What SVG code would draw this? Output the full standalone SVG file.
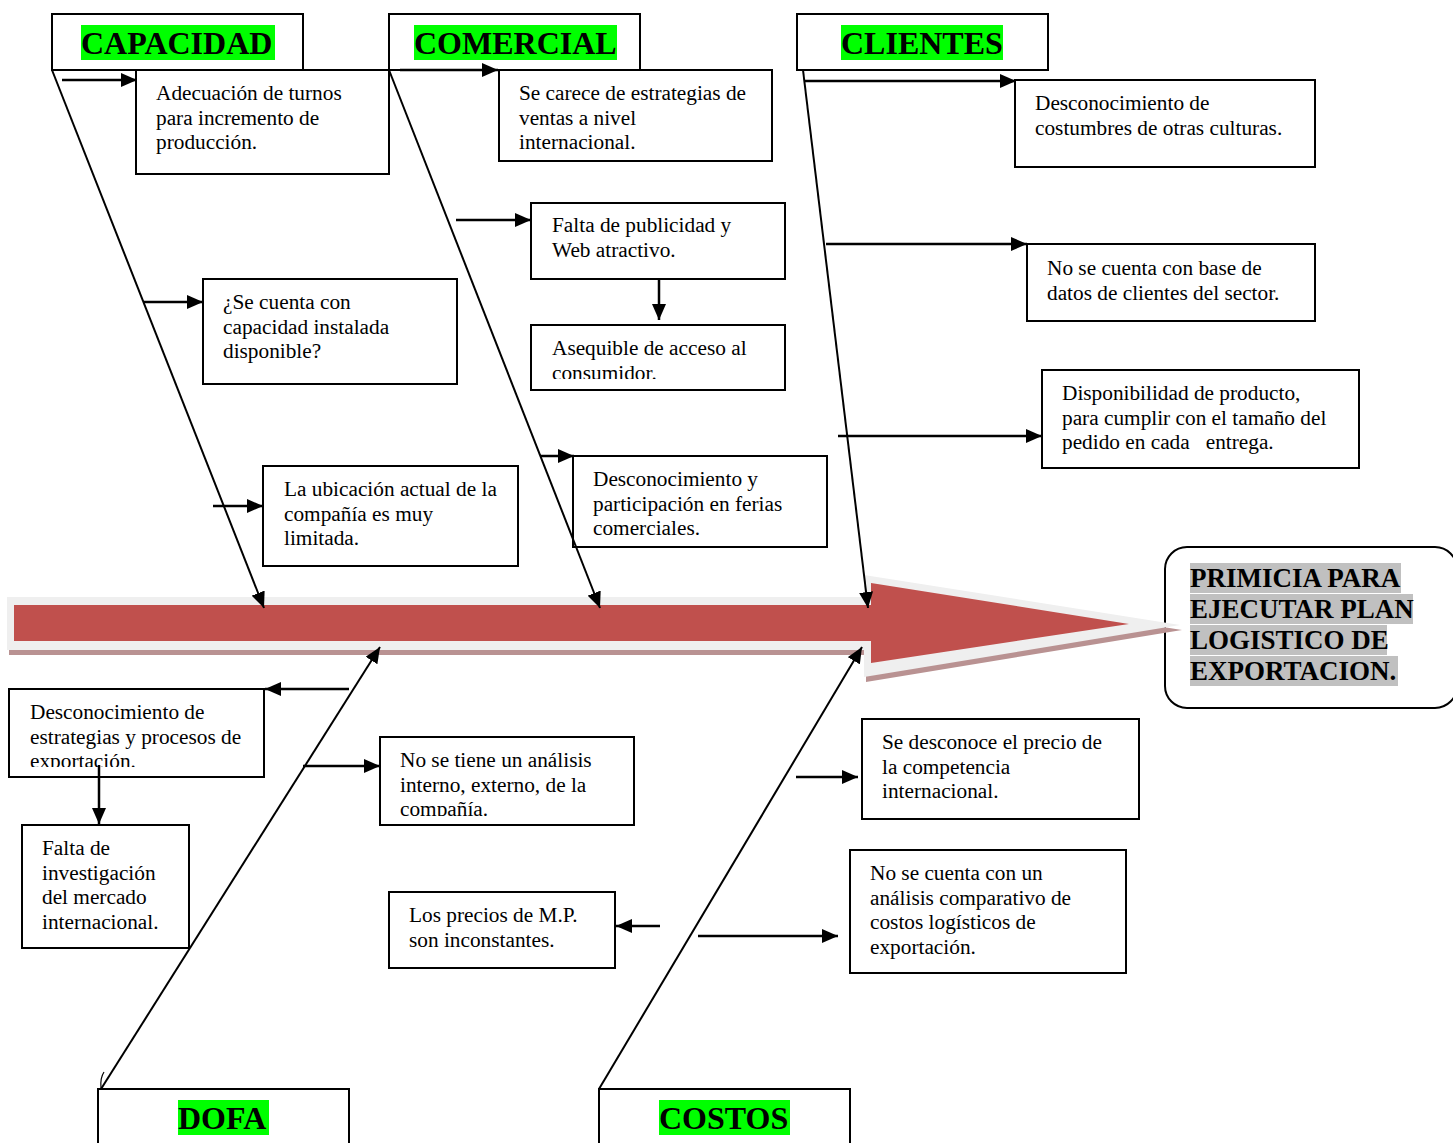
<svg xmlns="http://www.w3.org/2000/svg" width="1453" height="1143" viewBox="0 0 1453 1143">
<style>
.box{fill:#fff;stroke:#000;stroke-width:2}
.t{font-family:"Liberation Serif","Times New Roman",serif;font-size:21.3px;fill:#000}
.h{font-family:"Liberation Serif","Times New Roman",serif;font-size:32px;font-weight:bold;fill:#000}
.r{font-family:"Liberation Serif","Times New Roman",serif;font-size:27px;font-weight:bold;fill:#000}
.hl{fill:#00ff00}
.gl{fill:#c0c0c0}
.sp{stroke:#000;stroke-width:2;fill:none;marker-end:url(#ah)}
.ar{stroke:#000;stroke-width:2.5;fill:none;marker-end:url(#ah)}
</style>
<defs>
<marker id="ah" markerUnits="userSpaceOnUse" markerWidth="16" markerHeight="14" refX="16" refY="7" orient="auto">
<path d="M0,0 L16,7 L0,14 z" fill="#000"/>
</marker>
<clipPath id="c1"><rect x="531" y="325" width="254" height="54"/></clipPath>
<clipPath id="c2"><rect x="9" y="689" width="255" height="78"/></clipPath>
<clipPath id="c3"><rect x="380" y="737" width="254" height="79"/></clipPath>
</defs>
<rect width="1453" height="1143" fill="#fff"/>

<g id="result">
<rect x="1165" y="547" width="292" height="161" rx="22" ry="22" class="box"/>
<rect x="1190" y="563" width="211" height="30" class="gl"/>
<rect x="1190" y="594" width="223" height="30" class="gl"/>
<rect x="1190" y="625" width="197" height="30" class="gl"/>
<rect x="1190" y="656" width="208" height="30" class="gl"/>
<text class="r"><tspan x="1190" y="587">PRIMICIA PARA</tspan><tspan x="1190" y="618">EJECUTAR PLAN</tspan><tspan x="1190" y="649">LOGISTICO DE</tspan><tspan x="1190" y="680">EXPORTACION.</tspan></text>
</g>

<g id="main-arrow">
<polygon points="9,602 866,602 866,580 1182,630 866,682 866,655 9,655" fill="#b99292"/>
<polygon points="7,597 864,597 864,575 1180,625 864,677 864,650 7,650" fill="#efefef"/>
<polygon points="14,605 871,605 871,583 1129,624 871,663 871,641 14,641" fill="#c0504d"/>
</g>

<g id="hdr-capacidad">
<rect x="52" y="14" width="251" height="56" class="box"/>
<rect x="81" y="25" width="194" height="35" class="hl"/>
<text class="h" x="81" y="54">CAPACIDAD</text>
</g>
<g id="hdr-comercial">
<rect x="389" y="14" width="251" height="56" class="box"/>
<rect x="414" y="25" width="203" height="35" class="hl"/>
<text class="h" x="414" y="54">COMERCIAL</text>
</g>
<g id="hdr-clientes">
<rect x="797" y="14" width="251" height="56" class="box"/>
<rect x="841" y="25" width="162" height="35" class="hl"/>
<text class="h" x="841" y="54">CLIENTES</text>
</g>
<g id="hdr-dofa">
<rect x="98" y="1089" width="251" height="70" class="box"/>
<rect x="178" y="1100" width="91" height="35" class="hl"/>
<text class="h" x="178" y="1129">DOFA</text>
</g>
<g id="hdr-costos">
<rect x="599" y="1089" width="251" height="70" class="box"/>
<rect x="659" y="1100" width="131" height="35" class="hl"/>
<text class="h" x="659" y="1129">COSTOS</text>
</g>

<g id="n-adecuacion">
<rect x="136" y="70" width="253" height="104" class="box"/>
<text class="t"><tspan x="156" y="100">Adecuación de turnos</tspan><tspan x="156" y="124.5">para incremento de</tspan><tspan x="156" y="149">producción.</tspan></text>
</g>
<g id="n-secuenta">
<rect x="203" y="279" width="254" height="105" class="box"/>
<text class="t"><tspan x="223" y="309">¿Se cuenta con</tspan><tspan x="223" y="333.5">capacidad instalada</tspan><tspan x="223" y="358">disponible?</tspan></text>
</g>
<g id="n-ubicacion">
<rect x="263" y="466" width="255" height="100" class="box"/>
<text class="t"><tspan x="284" y="496">La ubicación actual de la</tspan><tspan x="284" y="520.5">compañía es muy</tspan><tspan x="284" y="545">limitada.</tspan></text>
</g>
<g id="n-carece">
<rect x="499" y="70" width="273" height="91" class="box"/>
<text class="t"><tspan x="519" y="100">Se carece de estrategias de</tspan><tspan x="519" y="124.5">ventas a nivel</tspan><tspan x="519" y="149">internacional.</tspan></text>
</g>
<g id="n-publicidad">
<rect x="531" y="203" width="254" height="76" class="box"/>
<text class="t"><tspan x="552" y="232">Falta de publicidad y</tspan><tspan x="552" y="256.5">Web atractivo.</tspan></text>
</g>
<g id="n-asequible">
<rect x="531" y="325" width="254" height="65" class="box"/>
<text class="t" clip-path="url(#c1)"><tspan x="552" y="355">Asequible de acceso al</tspan><tspan x="552" y="379.5">consumidor.</tspan></text>
</g>
<g id="n-ferias">
<rect x="573" y="456" width="254" height="91" class="box"/>
<text class="t"><tspan x="593" y="486">Desconocimiento y</tspan><tspan x="593" y="510.5">participación en ferias</tspan><tspan x="593" y="535">comerciales.</tspan></text>
</g>
<g id="n-costumbres">
<rect x="1015" y="80" width="300" height="87" class="box"/>
<text class="t"><tspan x="1035" y="110">Desconocimiento de</tspan><tspan x="1035" y="135">costumbres de otras culturas.</tspan></text>
</g>
<g id="n-basedatos">
<rect x="1027" y="244" width="288" height="77" class="box"/>
<text class="t"><tspan x="1047" y="275">No se cuenta con base de</tspan><tspan x="1047" y="299.5">datos de clientes del sector.</tspan></text>
</g>
<g id="n-disponibilidad">
<rect x="1042" y="370" width="317" height="98" class="box"/>
<text class="t"><tspan x="1062" y="400">Disponibilidad de producto,</tspan><tspan x="1062" y="424.5">para cumplir con el tamaño del</tspan><tspan x="1062" y="449" xml:space="preserve">pedido en cada   entrega.</tspan></text>
</g>
<g id="n-estrategias">
<rect x="9" y="689" width="255" height="88" class="box"/>
<text class="t" clip-path="url(#c2)"><tspan x="30" y="719">Desconocimiento de</tspan><tspan x="30" y="743.5">estrategias y procesos de</tspan><tspan x="30" y="768">exportación.</tspan></text>
</g>
<g id="n-investigacion">
<rect x="22" y="825" width="167" height="123" class="box"/>
<text class="t"><tspan x="42" y="855">Falta de</tspan><tspan x="42" y="879.5">investigación</tspan><tspan x="42" y="904">del mercado</tspan><tspan x="42" y="928.5">internacional.</tspan></text>
</g>
<g id="n-analisis">
<rect x="380" y="737" width="254" height="88" class="box"/>
<text class="t" clip-path="url(#c3)"><tspan x="400" y="767">No se tiene un análisis</tspan><tspan x="400" y="791.5">interno, externo, de la</tspan><tspan x="400" y="816">compañía.</tspan></text>
</g>
<g id="n-precios">
<rect x="389" y="892" width="226" height="76" class="box"/>
<text class="t"><tspan x="409" y="922">Los precios de M.P.</tspan><tspan x="409" y="946.5">son inconstantes.</tspan></text>
</g>
<g id="n-competencia">
<rect x="862" y="719" width="277" height="100" class="box"/>
<text class="t"><tspan x="882" y="749">Se desconoce el precio de</tspan><tspan x="882" y="773.5">la competencia</tspan><tspan x="882" y="798">internacional.</tspan></text>
</g>
<g id="n-comparativo">
<rect x="850" y="850" width="276" height="123" class="box"/>
<text class="t"><tspan x="870" y="880">No se cuenta con un</tspan><tspan x="870" y="904.5">análisis comparativo de</tspan><tspan x="870" y="929">costos logísticos de</tspan><tspan x="870" y="953.5">exportación.</tspan></text>
</g>

<g id="connectors">
<line x1="52" y1="70" x2="264" y2="608" class="sp"/>
<line x1="389" y1="70" x2="600" y2="608" class="sp"/>
<line x1="803" y1="70" x2="868" y2="608" class="sp"/>
<line x1="101" y1="1089" x2="380" y2="647" class="sp"/>
<line x1="599" y1="1089" x2="862" y2="647" class="sp"/>
<path d="M104,1072 Q100,1078 101,1088" stroke="#000" stroke-width="1.2" fill="none"/>
<line x1="62" y1="80" x2="137" y2="80" class="ar"/>
<line x1="143" y1="302" x2="203" y2="302" class="ar"/>
<line x1="213" y1="506" x2="263" y2="506" class="ar"/>
<line x1="400" y1="70" x2="498" y2="70" class="ar"/>
<line x1="456" y1="220" x2="531" y2="220" class="ar"/>
<line x1="540" y1="456" x2="574" y2="456" class="ar"/>
<line x1="659" y1="279" x2="659" y2="320" class="ar"/>
<line x1="804" y1="81" x2="1016" y2="81" class="ar"/>
<line x1="826" y1="244" x2="1027" y2="244" class="ar"/>
<line x1="838" y1="436" x2="1042" y2="436" class="ar"/>
<line x1="349" y1="689" x2="265" y2="689" class="ar"/>
<line x1="99" y1="765" x2="99" y2="824" class="ar"/>
<line x1="303" y1="766" x2="380" y2="766" class="ar"/>
<line x1="796" y1="777" x2="858" y2="777" class="ar"/>
<line x1="660" y1="926" x2="616" y2="926" class="ar"/>
<line x1="698" y1="936" x2="838" y2="936" class="ar"/>
</g>
</svg>
